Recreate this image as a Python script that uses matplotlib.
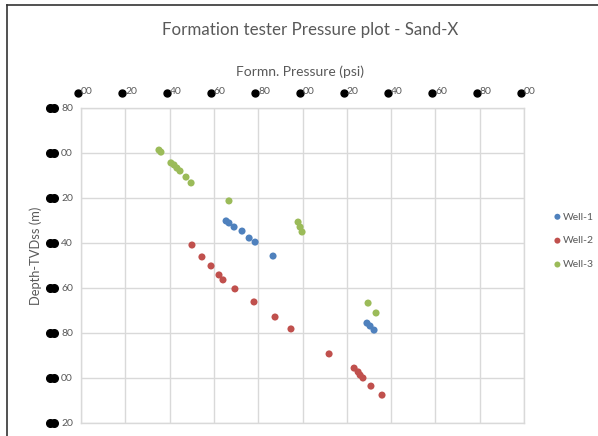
import matplotlib

matplotlib.use("Agg")
import matplotlib.pyplot as plt
from matplotlib.lines import Line2D
from matplotlib.transforms import blended_transform_factory, offset_copy

plt.rcParams["font.family"] = ["Lato", "DejaVu Sans"]

# pressure axis (psi) and depth axis (m); tick labels only show the last two digits
x_ticks = [5000, 5020, 5040, 5060, 5080, 5100, 5120, 5140, 5160, 5180, 5200]
y_ticks = [1980, 2000, 2020, 2040, 2060, 2080, 2100, 2120]

well1_p = [5065.5, 5066.8, 5069.1, 5072.7, 5075.9, 5078.6, 5086.7, 5129.1, 5130.5, 5132.3]
well1_d = [2030.2, 2031.1, 2032.9, 2034.7, 2037.8, 2039.6, 2045.8, 2075.6, 2076.9, 2078.7]

well2_p = [5050.1, 5054.6, 5058.7, 5062.3, 5064.1, 5069.5, 5078.1, 5087.6, 5094.8,
           5112.0, 5123.3, 5125.1, 5126.0, 5127.3, 5130.9, 5135.9]
well2_d = [2040.9, 2046.2, 2050.2, 2054.2, 2056.4, 2060.4, 2066.2, 2072.9, 2078.2,
           2089.3, 2095.6, 2097.3, 2098.7, 2100.0, 2103.6, 2107.6]

well3_p = [5035.2, 5036.1, 5040.6, 5042.0, 5043.3, 5044.7, 5047.4, 5049.7, 5066.8,
           5098.0, 5098.9, 5099.8, 5129.6, 5133.2]
well3_d = [1998.7, 1999.6, 2004.4, 2005.3, 2006.7, 2008.0, 2010.7, 2013.3, 2021.3,
           2030.7, 2032.9, 2035.1, 2066.7, 2071.1]

wells = [
    ("Well-1", well1_p, well1_d, "#4F81BD"),
    ("Well-2", well2_p, well2_d, "#C0504D"),
    ("Well-3", well3_p, well3_d, "#9BBB59"),
]

W, H = 598, 436
fig = plt.figure(figsize=(W / 100, H / 100), dpi=100)
ax = fig.add_axes([81 / W, 1 - 423 / H, (524 - 81) / W, (423 - 108) / H])

for name, p, d, color in wells:
    ax.scatter(p, d, s=26, color=color, edgecolors="none", label=name, zorder=3)

ax.set_xlim(x_ticks[0], x_ticks[-1])
ax.set_ylim(y_ticks[-1], y_ticks[0])
ax.set_xticks(x_ticks)
ax.set_yticks(y_ticks)
ax.set_xticklabels([])
ax.set_yticklabels([])
ax.tick_params(length=0)
ax.grid(True, color="#D9D9D9", linewidth=1.0)
ax.set_axisbelow(True)
for sp in ax.spines.values():
    sp.set_color("#D9D9D9")
    sp.set_linewidth(1.0)

# garbled tick labels: black blob + last two digits
label_color = "#595959"
xb = blended_transform_factory(ax.transData, ax.transAxes)
for v in x_ticks:
    txt = f"{v % 100:02d}"
    ax.text(v, 1, txt, transform=offset_copy(xb, fig=fig, x=0, y=16, units="dots"),
            ha="left", va="center", fontsize=7.5, color=label_color)
    ax.plot([v], [1], marker="o", markersize=5, color="black", clip_on=False,
            transform=offset_copy(xb, fig=fig, x=-3, y=15, units="dots"))

yb = blended_transform_factory(ax.transAxes, ax.transData)
for v in y_ticks:
    txt = f"{v % 100:02d}"
    ax.text(0, v, txt, transform=offset_copy(yb, fig=fig, x=-20, y=0, units="dots"),
            ha="left", va="center", fontsize=7.5, color=label_color)
    for dx in (-31, -27):
        ax.plot([0], [v], marker="o", markersize=5.5, color="black", clip_on=False,
                transform=offset_copy(yb, fig=fig, x=dx, y=0, units="dots"))

fig.text(310 / W, 1 - 30 / H, "Formation tester Pressure plot - Sand-X",
         ha="center", va="center", fontsize=12.2, color="#595959")
fig.text(300 / W, 1 - 72 / H, "Formn. Pressure (psi)",
         ha="center", va="center", fontsize=10, color="#595959")
fig.text(36 / W, 1 - 256 / H, "Depth-TVDss (m)", rotation=90,
         ha="center", va="center", fontsize=9.3, color="#595959")

fig.legend(loc="upper left", bbox_to_anchor=(547 / W, 1 - 207 / H), frameon=False,
           fontsize=7.5, handletextpad=0.0, markerscale=0.85, labelspacing=1.4,
           borderpad=0, handlelength=1.0, labelcolor="#595959")

# screenshot frame on top and left
fig.add_artist(Line2D([7 / W, 1], [1 - 5 / H, 1 - 5 / H], transform=fig.transFigure,
                      color="#333333", linewidth=1.2))
fig.add_artist(Line2D([7 / W, 7 / W], [0, 1 - 5 / H], transform=fig.transFigure,
                      color="#333333", linewidth=1.2))

fig.savefig("out.png", dpi=100)
